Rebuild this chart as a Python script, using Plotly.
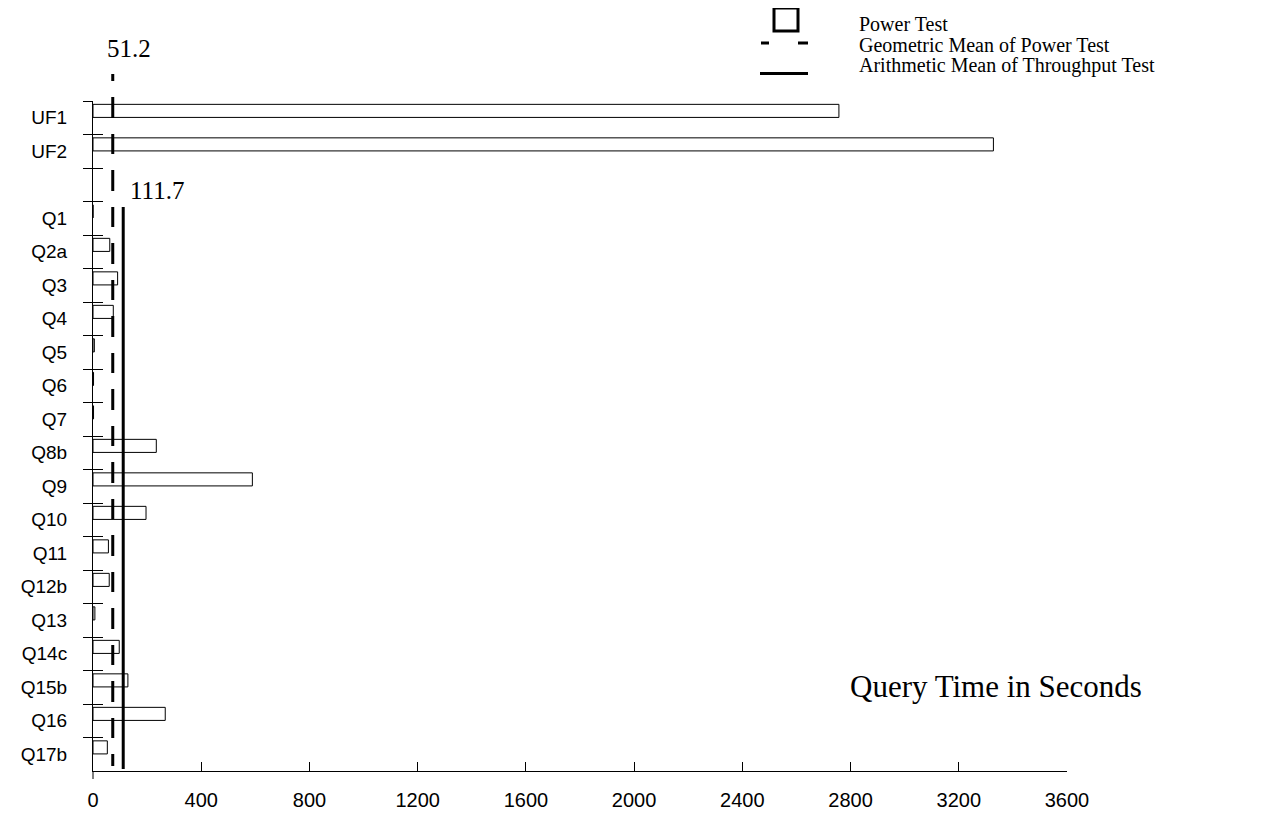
import plotly.graph_objects as go

# ---- data ----
categories = ["UF1", "UF2", " ", "Q1", "Q2a", "Q3", "Q4", "Q5", "Q6", "Q7", "Q8b",
              "Q9", "Q10", "Q11", "Q12b", "Q13", "Q14c", "Q15b", "Q16", "Q17b"]
power_test = [2757, 3328, None, 0, 62, 91, 75, 5, 2, 2, 234,
              589, 196, 57, 60, 7, 97, 129, 267, 53]
geo_mean_label = 51.2
geo_mean_pos = 73          # where the dashed line is drawn in the reference
arith_mean = 111.7
x_ticks = [0, 400, 800, 1200, 1600, 2000, 2400, 2800, 3200, 3600]

SERIF = "Liberation Serif, Times New Roman, serif"
SANS = "Liberation Sans, Arial, sans-serif"

fig = go.Figure()
fig.add_trace(go.Bar(
    y=categories, x=power_test, orientation="h",
    marker=dict(color="white", line=dict(color="black", width=1)),
    width=0.39, offset=-0.40, showlegend=False, hoverinfo="skip"))
# invisible trace so the overlaid tick axis is rendered
fig.add_trace(go.Scatter(y=categories, x=[0] * len(categories), yaxis="y2",
                         mode="markers", marker=dict(opacity=0, size=1),
                         showlegend=False, hoverinfo="skip"))

OFF = 8  # default page body margin
W, H = 1266 - OFF, 815 - OFF
L, T = 93 - OFF, 101 - OFF
R = W - (1067 - OFF)
B = H - (771 - OFF)
pw, ph = W - L - R, H - T - B


def py(p):  # reference pixel y -> paper
    return (H - B - (p - OFF)) / ph


def px(p):  # reference pixel x -> paper
    return ((p - OFF) - L) / pw


dash_geo = "7px,16px" + ",21px,16px,20px,16px" * 12
n = len(categories)

shapes = [
    dict(type="line", xref="x", yref="paper", x0=geo_mean_pos, x1=geo_mean_pos,
         y0=py(74), y1=py(766), line=dict(color="black", width=3, dash=dash_geo)),
    dict(type="line", xref="x", yref="paper", x0=arith_mean, x1=arith_mean,
         y0=py(207), y1=py(769), line=dict(color="black", width=3)),
    # legend symbols
    dict(type="rect", xref="paper", yref="paper", x0=px(774), x1=px(798),
         y0=py(31), y1=py(8), line=dict(color="black", width=3), fillcolor="white"),
    dict(type="line", xref="paper", yref="paper", x0=px(761), x1=px(808),
         y0=py(43), y1=py(43), line=dict(color="black", width=3, dash="8px,29px,10px")),
    dict(type="line", xref="paper", yref="paper", x0=px(760), x1=px(808),
         y0=py(73.5), y1=py(73.5), line=dict(color="black", width=3)),
    # small extension of the value axis below the category axis
    dict(type="line", xref="paper", yref="paper", x0=0, x1=0,
         y0=0, y1=py(779), line=dict(color="black", width=1)),
]

annotations = [
    dict(text=f"{geo_mean_label}", xref="x", yref="paper", x=geo_mean_pos, y=py(48),
         xanchor="left", yanchor="middle", xshift=-8, showarrow=False,
         font=dict(family=SERIF, size=25, color="black")),
    dict(text=f"{arith_mean}", xref="x", yref="paper", x=arith_mean, y=py(190),
         xanchor="left", yanchor="middle", xshift=5, showarrow=False,
         font=dict(family=SERIF, size=25, color="black")),
    dict(text="Query Time in Seconds", xref="paper", yref="paper", x=px(996), y=py(686),
         xanchor="center", yanchor="middle", showarrow=False,
         font=dict(family=SERIF, size=31, color="black")),
]
legend_texts = ["Power Test", "Geometric Mean of Power Test", "Arithmetic Mean of Throughput Test"]
legend_y = [24, 45, 66]
for t, yy in zip(legend_texts, legend_y):
    annotations.append(dict(text=t, xref="paper", yref="paper", x=px(857), y=py(yy),
                            xanchor="left", yanchor="middle", showarrow=False,
                            font=dict(family=SERIF, size=20, color="black")))

yrange = [n - 0.5, -0.5]
fig.update_layout(
    template="none",
    width=W, height=H, margin=dict(l=L, r=R, t=T, b=B, pad=0, autoexpand=False),
    paper_bgcolor="white", plot_bgcolor="white",
    shapes=shapes, annotations=annotations, showlegend=False,
    xaxis=dict(range=[0, 3600], tickvals=x_ticks, ticks="inside", ticklen=9,
               tickcolor="black", tickwidth=1, showline=True, linecolor="black",
               linewidth=1, showgrid=False, zeroline=False, automargin=False,
               tickfont=dict(family=SANS, size=20, color="black"),
               ticklabelstandoff=11),
    yaxis=dict(type="category", categoryorder="array", categoryarray=categories,
               range=yrange, autorange=False, tickson="boundaries", ticks="outside",
               ticklen=9, tickcolor="black", tickwidth=1, showline=True,
               linecolor="black", linewidth=1, showgrid=False, zeroline=False,
               automargin=False, tickfont=dict(family=SANS, size=19, color="black"),
               ticklabelstandoff=21),
    yaxis2=dict(type="category", categoryorder="array", categoryarray=categories,
                overlaying="y", side="left", range=yrange, autorange=False,
                tickson="boundaries", ticks="inside", ticklen=10, tickcolor="black",
                tickwidth=1, showticklabels=False, showgrid=False, zeroline=False,
                showline=False, automargin=False),
)

fig.write_html("out.html")
